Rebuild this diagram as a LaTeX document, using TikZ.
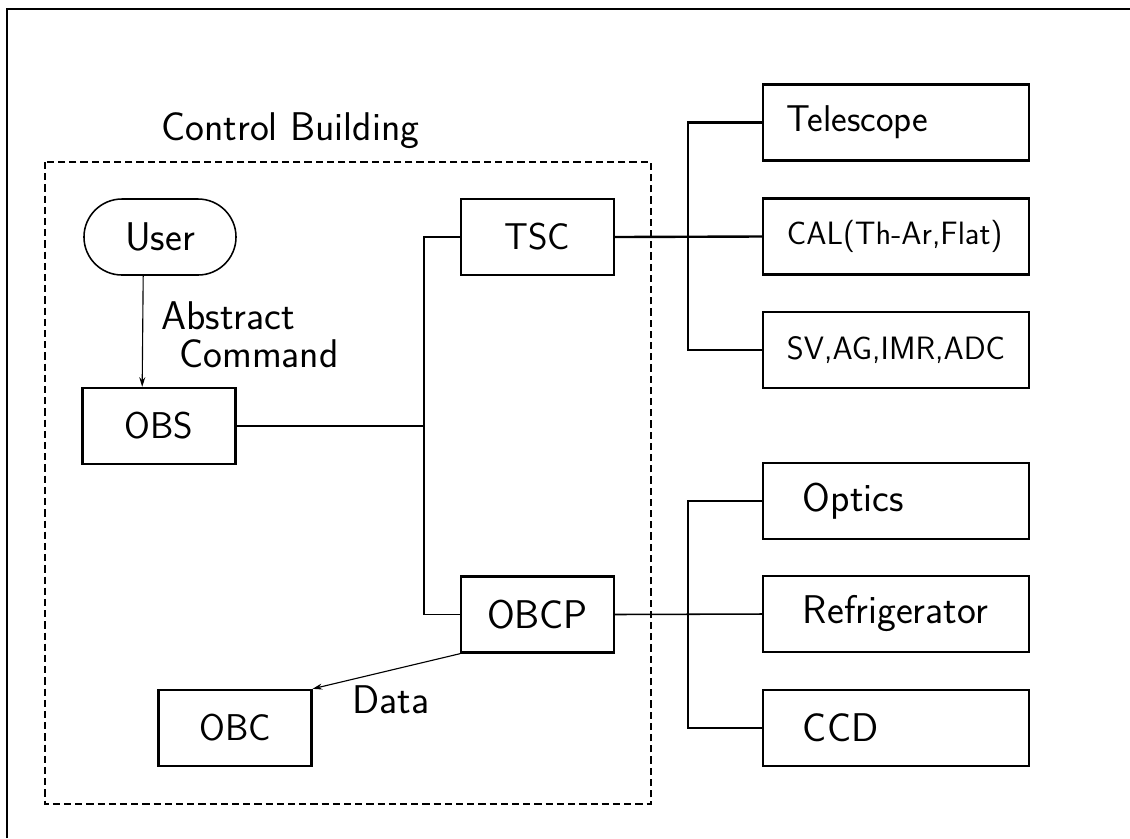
\documentclass[tikz,border=0pt]{standalone}
\usepackage{tikz}
\usetikzlibrary{positioning,arrows.meta,calc}
\newcommand{\bigsf}{\sffamily\fontsize{28.5}{27}\selectfont}
\newcommand{\boxsf}{\sffamily\fontsize{26.5}{27}\selectfont}
\newcommand{\smallsf}{\sffamily\fontsize{23}{26}\selectfont}
\exhyphenpenalty=10000
\hyphenpenalty=10000

\begin{document}
\begin{tikzpicture}[
    x=0.025cm, y=-0.025cm,
    block/.style={draw, line width=1.7pt, minimum width=3.82cm, minimum height=1.9cm, inner sep=0pt, font=\boxsf},
    unit/.style={draw, line width=1.7pt, minimum width=6.65cm, minimum height=1.9cm, inner ysep=0pt, align=left},
    upunit/.style={unit, text width=5.45cm, inner xsep=0.6cm, font=\smallsf},
    lowunit/.style={unit, text width=4.65cm, inner xsep=1cm, font=\bigsf},
    term/.style={draw, line width=1.1pt, rounded corners=0.95cm, minimum width=3.8cm, minimum height=1.9cm, inner sep=0pt, font=\bigsf},
    arrow/.style={-{Stealth[length=2.4mm, width=1.5mm]}, line width=0.8pt},
    wire/.style={line width=1.7pt},
    thinwire/.style={line width=1.1pt},
    label/.style={inner sep=0pt, font=\bigsf}
]
\useasboundingbox (0,0) rectangle (1130,838);

% Frame
\draw[line width=1.7pt] (7,838) -- (7,9) -- (1130,9);

% Control building
\node[label, anchor=base west] (bldg) at (161,140) {Control Building};
\draw[line width=1.3pt, dash pattern=on 0.18cm off 0.1cm] (45,162) rectangle (651,804);

\node[term] (user) at (160,237) {User};
\node[block] (obs) at (159,426) {OBS};
\node[block] (obc) at (235,728) {OBC};
\node[block] (tsc) at (537.5,237) {TSC};
\node[block, font=\bigsf] (obcp) at (537.5,614.5) {OBCP};

% Units
\node[upunit, font=\boxsf] (tel) at (896,122.5) {Telescope};
\node[upunit] (cal) at (896,236.5) {CAL(Th-Ar,Flat)};
\node[upunit] (sv) at (896,350) {SV,AG,IMR,ADC};
\node[lowunit] (optics) at (896,501) {Optics};
\node[lowunit] (refrig) at (896,614) {Refrigerator};
\node[lowunit] (ccd) at (896,728) {CCD};

% Buses
\coordinate (busl) at (424,426);
\coordinate (busu) at (688,237);
\coordinate (busd) at (688,614);

% Arrows
\draw[arrow] ([xshift=-0.42cm]user.south) -- ([xshift=-0.42cm]obs.north);
\node[label, anchor=north west, align=left] (cmd) at (161,301) {Abstract\\\hspace{0.45cm}Command};
\draw[wire] (obs.east) -- (busl);
\draw[wire] (tsc.west) -| (busl);
\draw[thinwire] (busl) |- (obcp.west);
\draw[wire] (tsc.east) -- (cal.west);
\draw[wire] (tel.west) -| (busu) |- (sv.west);
\draw[thinwire] (obcp.east) -- (refrig.west);
\draw[wire] (optics.west) -| (busd) |- (ccd.west);
\draw[arrow] (obcp.south west) -- (obc.north east);
\node[label, anchor=base west] (data) at (352,713) {Data};
\end{tikzpicture}
\end{document}
